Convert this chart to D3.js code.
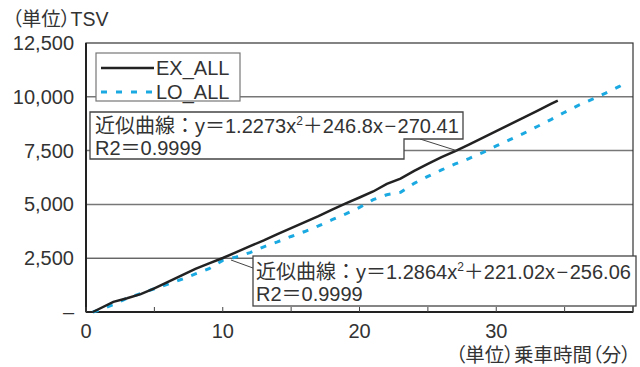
<!DOCTYPE html>
<html><head><meta charset="utf-8">
<script src="https://cdn.jsdelivr.net/npm/d3@7"></script>
<style>
body{margin:0;background:#fff}
svg text{font-family:"Liberation Sans","Noto Sans CJK JP",sans-serif;fill:#333;}
svg text.palt{font-feature-settings:"palt";}
</style></head><body>
<svg id="c" width="640" height="367"></svg>
<script>
// ---- data ----
const seriesNames = ["EX_ALL", "LO_ALL"];
const exMinutes = [0.5,2,3,4,5,6,7,8,9,10,11,12,13,14,15,16,17,18,19,20,21,22,23,24,25,26,27,28,29,30,31,32,33,34,34.5];
const exTSV     = [0,470,640,830,1100,1400,1700,2000,2260,2510,2780,3060,3330,3620,3900,4180,4460,4760,5050,5320,5600,5950,6200,6560,6880,7200,7480,7780,8090,8400,8720,9030,9350,9670,9820];
const loMinutes = [0.5,1,2,3,4,5,6,7,8,9,10,11,12,13,14,15,16,17,18,19,20,21,22,23,24,25,26,27,28,29,30,31,32,33,34,35,36,37,38,39,39.6];
const loTSV     = [0,100,340,640,860,1080,1300,1520,1770,2010,2400,2560,2760,3030,3260,3510,3740,4000,4290,4560,4860,5220,5450,5560,5980,6300,6600,6880,7130,7400,7720,8010,8300,8620,8940,9280,9600,9880,10170,10480,10690];
const xTicks = [0,5,10,15,20,25,30,35,40];
const xTickLabels = [0,10,20,30];
const yTicks = [0,2500,5000,7500,10000,12500];
const yTickLabels = ["–","2,500","5,000","7,500","10,000","12,500"];
const fitEX = {a:"1.2273", b:"246.8", c:"270.41", r2:"0.9999"};
const fitLO = {a:"1.2864", b:"221.02", c:"256.06", r2:"0.9999"};

// ---- chart ----
const svg = d3.select("#c");
const x = d3.scaleLinear().domain([0,40]).range([86,633]);
const y = d3.scaleLinear().domain([0,12500]).range([312,43]);

// grid lines
svg.append("g").selectAll("line").data(yTicks.filter(v=>v>0 && v<12500)).join("line")
  .attr("x1",x(0)).attr("x2",x(40)).attr("y1",d=>y(d)).attr("y2",d=>y(d))
  .attr("stroke",d=>d===2500?"#222":"#777").attr("stroke-width",d=>d===2500?1:1.5);

// frame
svg.append("rect").attr("x",x(0)).attr("y",y(12500)).attr("width",x(40)-x(0)).attr("height",y(0)-y(12500))
  .attr("fill","none").attr("stroke","#333").attr("stroke-width",1.2);
svg.append("line").attr("x1",x(0)).attr("x2",x(0)).attr("y1",y(12500)).attr("y2",y(0)).attr("stroke","#222").attr("stroke-width",2);
svg.append("line").attr("x1",x(0)).attr("x2",x(40)).attr("y1",y(0)).attr("y2",y(0)).attr("stroke","#222").attr("stroke-width",2);

// x ticks (inward)
svg.append("g").selectAll("line").data(xTicks).join("line")
  .attr("x1",d=>x(d)).attr("x2",d=>x(d)).attr("y1",y(0)).attr("y2",y(0)-5)
  .attr("stroke","#444").attr("stroke-width",1);
svg.append("g").selectAll("text").data(xTickLabels).join("text")
  .attr("x",d=>x(d)).attr("y",338).attr("text-anchor","middle").attr("font-size",20).text(d=>d);

// y labels
svg.append("g").selectAll("text").data(yTicks).join("text")
  .attr("x",74).attr("y",d=>y(d)+7).attr("text-anchor","end").attr("font-size",20)
  .text((d,i)=>yTickLabels[i]);

// axis titles
svg.append("text").attr("class","palt").attr("x",12).attr("y",26).attr("font-size",19.5).text("（単位）TSV");
svg.append("text").attr("class","palt").attr("x",631).attr("y",362).attr("text-anchor","end").attr("font-size",19.5).text("（単位）乗車時間（分）");

// series
const line = d3.line().x(d=>x(d[0])).y(d=>y(d[1]));
const exData = exMinutes.map((t,i)=>[t,exTSV[i]]);
const loData = loMinutes.map((t,i)=>[t,loTSV[i]]);
svg.append("path").datum(loData).attr("d",line).attr("fill","none")
  .attr("stroke","#1ba9e1").attr("stroke-width",3).attr("stroke-dasharray","6,9");
svg.append("path").datum(exData).attr("d",line).attr("fill","none")
  .attr("stroke","#222").attr("stroke-width",2.5);

// legend
const lg = svg.append("g");
lg.append("rect").attr("x",96).attr("y",53).attr("width",144).attr("height",48)
  .attr("fill","#fff").attr("stroke","#777").attr("stroke-width",1.2);
lg.append("line").attr("x1",101).attr("x2",154).attr("y1",68).attr("y2",68).attr("stroke","#222").attr("stroke-width",2.5);
lg.append("line").attr("x1",101).attr("x2",154).attr("y1",92).attr("y2",92).attr("stroke","#1ba9e1").attr("stroke-width",3).attr("stroke-dasharray","6,9");
lg.selectAll("text").data(seriesNames).join("text")
  .attr("x",156).attr("y",(d,i)=>75+i*24).attr("font-size",20).text(d=>d);

// annotations
function eqText(sel, f, x0, y0){
  const t = sel.append("text").attr("x",x0).attr("y",y0).attr("font-size",20);
  t.append("tspan").text("近似曲線：y＝"+f.a+"x");
  t.append("tspan").attr("font-size",12).attr("dy",-8).text("2");
  t.append("tspan").attr("dy",8).text("＋"+f.b+"x");
  t.append("tspan").attr("dx",1.5).text("−");
  t.append("tspan").attr("dx",1.5).text(f.c);
  sel.append("text").attr("x",x0).attr("y",y0+22).attr("font-size",20).text("R2＝"+f.r2);
}
const a1 = svg.append("g");
a1.append("line").attr("x1",420).attr("y1",139).attr("x2",x(27.1)).attr("y2",y(7500))
  .attr("stroke","#444").attr("stroke-width",1);
a1.append("path").attr("d","M90,112H463V139H404V159H90Z").attr("fill","#fff").attr("stroke","#444").attr("stroke-width",1.3);
eqText(a1, fitEX, 95, 133);

const a2 = svg.append("g");
a2.append("line").attr("x1",253).attr("y1",268).attr("x2",x(10.6)).attr("y2",260)
  .attr("stroke","#444").attr("stroke-width",1);
a2.append("rect").attr("x",253).attr("y",256).attr("width",383).attr("height",50)
  .attr("fill","#fff").attr("stroke","#444").attr("stroke-width",1.3);
eqText(a2, fitLO, 256, 279);
</script>
</body></html>
